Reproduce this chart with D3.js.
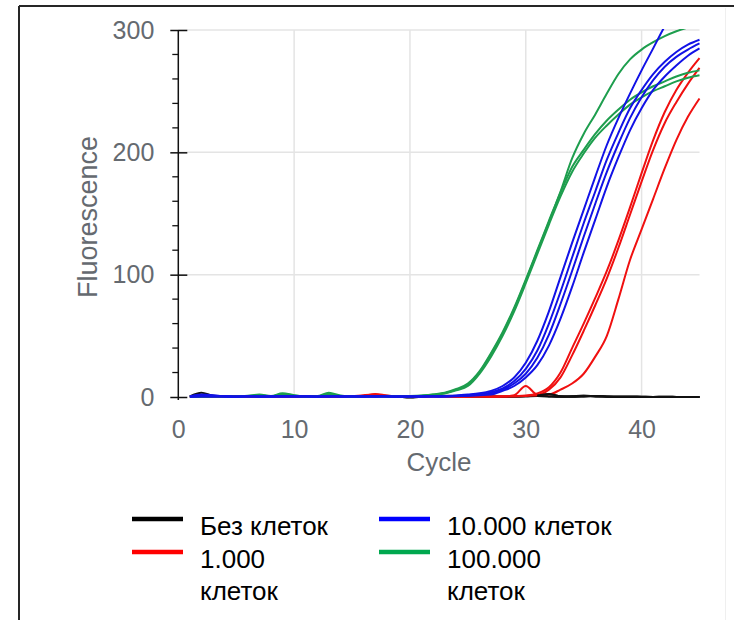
<!DOCTYPE html>
<html>
<head>
<meta charset="utf-8">
<script src="https://cdn.jsdelivr.net/npm/d3@7"></script>
<style>
  html, body { margin: 0; padding: 0; background: #fff; }
  svg { display: block; font-family: "Liberation Sans", Arial, sans-serif; }
</style>
</head>
<body>
<svg id="chart" width="734" height="620"></svg>
<script>
// Amplification cycles 1..45
const cycles = [1,2,3,4,5,6,7,8,9,10,11,12,13,14,15,16,17,18,19,20,21,22,23,24,25,26,27,28,29,30,31,32,33,34,35,36,37,38,39,40,41,42,43,44,45];

// Fluorescence per replicate, one array per well
const noCells = [
  [0.5,3.5,1,0.5,0.3,0.5,0.8,0.6,1,0.8,0.5,0.6,1,0.7,0.5,0.6,1.2,1,0.3,-0.5,0.2,1.2,1,0.8,0.6,0.5,0.4,0.3,0.5,0.8,1.2,2.5,0.6,0.3,0.5,0.8,0.4,0.2,0.3,0.2,0.1,0.2,0.1,0,0.1],
  [0.2,0.5,0.4,0.3,0.6,0.4,0.3,0.5,0.6,0.4,0.3,0.5,0.4,0.3,0.5,0.8,1.5,0.6,0.2,-0.3,0.5,0.8,0.6,0.4,0.3,0.2,0.4,0.3,0.2,0.4,0.8,0.5,0.3,0.6,1,0.5,0.3,0.2,0.3,0.1,0,0.1,0,0.1,0]
];
const cells1k = [
  [0.3,0.6,0.4,0.2,0.5,0.7,0.4,0.3,0.6,0.5,0.4,0.6,0.5,0.3,0.6,1.5,2,0.8,0.4,0.3,0.5,0.6,0.4,0.3,0.5,0.4,0.3,0.5,0.8,1.2,3,8,20,40,60,81,103,128,155,183,210,233,251,265,277],
  [0.2,0.4,0.6,0.3,0.4,0.5,0.6,0.4,0.3,0.5,0.6,0.4,0.3,0.5,0.4,1,2.5,1.2,0.3,0.2,0.4,0.5,0.6,0.4,0.3,0.5,0.6,0.4,1.5,9,2,6,16,34,54,75,97,122,149,176,202,224,241,256,269],
  [0.4,0.3,0.5,0.6,0.4,0.3,0.5,0.4,0.6,0.5,0.3,0.4,0.6,0.5,0.3,0.8,1.2,0.6,0.4,0.2,0.4,0.6,0.5,0.3,0.4,0.5,0.3,0.6,0.5,0.8,1.5,2,6,11,19,33,50,80,112,137,162,187,210,229,244]
];
const cells10k = [
  [0.5,2,1.5,0.5,0.3,0.6,0.4,0.5,0.8,0.6,0.4,0.5,0.7,0.5,0.4,0.6,0.8,0.5,0.3,0.4,0.6,0.5,0.8,1.2,2,3,5,9,16,28,46,70,98,126,153,180,206,228,248,267,285,303,318,330,340],
  [0.3,1.5,1,0.8,0.4,0.5,0.3,0.6,0.5,0.4,0.6,0.3,0.5,0.6,0.4,0.5,0.3,0.6,0.4,0.5,0.3,0.6,0.5,1,1.5,2,4,7,13,23,38,60,86,114,142,168,194,216,236,251,264,274,282,288,292],
  [0.4,0.6,0.5,0.3,0.4,0.6,0.5,0.4,0.3,0.5,0.6,0.4,0.5,0.3,0.6,0.4,0.5,0.6,0.3,0.4,0.5,0.6,0.4,0.8,1.2,2,3,6,11,19,32,51,76,103,131,158,184,207,228,245,259,270,278,284,289],
  [0.2,0.5,0.4,0.6,0.3,0.5,0.4,0.3,0.6,0.5,0.4,0.3,0.5,0.6,0.4,0.3,0.5,0.4,0.6,0.3,0.5,0.4,0.6,0.7,1,1.5,2,5,9,16,26,42,64,90,118,145,172,196,218,236,251,262,271,279,285]
];
const cells100k = [
  [0.5,0.8,0.6,0.4,0.5,1,2,0.8,3,1.5,0.6,0.8,3.5,1.2,0.5,0.6,0.4,0.5,0.6,0.8,1.2,2,3.5,6.5,11,21,36,53,73,96,120,144,168,195,215,231,248,264,276,284,290,295,299,302,304],
  [0.3,0.5,0.4,0.6,0.4,0.8,1.5,0.5,2.5,1.2,0.4,0.6,2.5,0.8,0.4,0.5,0.6,0.4,0.5,0.7,1,2,3,6,10,20,35,52,72,95,119,143,167,188,202,215,226,235,243,249,254,258,262,265,267],
  [0.4,0.3,0.6,0.5,0.3,0.6,0.8,0.4,1.5,0.8,0.5,0.4,1.8,0.6,0.3,0.4,0.5,0.6,0.4,0.6,0.9,1.5,3,5.5,9,19,33,50,70,93,117,141,164,184,199,212,222,231,239,245,250,254,258,261,263]
];

// Series names and colours
const seriesNames = ["Без клеток", "1.000 клеток", "10.000 клеток", "100.000 клеток"];
const seriesColors = ["#000000", "#ff0000", "#0000ff", "#00a84f"];
const lineColors = ["#111111", "#f01010", "#1212e6", "#1e9e4e"];

const xTicks = [0, 10, 20, 30, 40];
const yTicks = [0, 100, 200, 300];
const yMinorTicks = [20, 40, 60, 80, 120, 140, 160, 180, 220, 240, 260, 280];

const FONT = "'Liberation Sans', Arial, sans-serif";
const svg = d3.select("#chart");

// Outer frame
svg.append("line").attr("x1", 19).attr("y1", 6).attr("x2", 734).attr("y2", 6)
  .attr("stroke", "#262626").attr("stroke-width", 2);
svg.append("line").attr("x1", 19).attr("y1", 6).attr("x2", 19).attr("y2", 620)
  .attr("stroke", "#262626").attr("stroke-width", 2);
svg.append("line").attr("x1", 725.5).attr("y1", 8).attr("x2", 725.5).attr("y2", 620)
  .attr("stroke", "#efefef").attr("stroke-width", 1);

const x = d3.scaleLinear().domain([0, 45]).range([178.3, 699.5]);
const y = d3.scaleLinear().domain([0, 300]).range([397, 30]);

// Grid
const grid = svg.append("g");
grid.selectAll("line.v").data(xTicks.filter(d => d > 0)).join("line")
  .attr("x1", d => x(d)).attr("x2", d => x(d))
  .attr("y1", y(300)).attr("y2", y(0))
  .attr("stroke", "#e4e4e4").attr("stroke-width", 1.5);
grid.selectAll("line.h").data(yTicks.filter(d => d > 0)).join("line")
  .attr("x1", x(0)).attr("x2", x(45))
  .attr("y1", d => y(d)).attr("y2", d => y(d))
  .attr("stroke", "#e4e4e4").attr("stroke-width", 1.5);

// Curves, clipped to the plot area
svg.append("clipPath").attr("id", "plotClip")
  .append("rect").attr("x", x(0)).attr("y", y(300) - 1)
  .attr("width", x(45) - x(0) + 2).attr("height", y(0) - y(300) + 6);

const lineFrom = start => d3.line()
  .x((d, i) => x(cycles[i + start]))
  .y(d => y(d))
  .curve(d3.curveMonotoneX);
const line = lineFrom(0);

const curves = svg.append("g").attr("clip-path", "url(#plotClip)");
const drawGroup = (reps, color) => {
  curves.selectAll(null).data(reps).join("path")
    .attr("d", line)
    .attr("fill", "none")
    .attr("stroke", color)
    .attr("stroke-width", 2);
};
drawGroup(noCells, lineColors[0]);
drawGroup(cells1k, lineColors[1]);
drawGroup(cells100k, lineColors[3]);
drawGroup(cells10k, lineColors[2]);
// the no-template wells stay on the baseline after the others rise: redraw that tail on top
const tailStart = 30;
curves.selectAll(null).data(noCells).join("path")
  .attr("d", d => lineFrom(tailStart)(d.slice(tailStart)))
  .attr("fill", "none").attr("stroke", lineColors[0]).attr("stroke-width", 2);

// Y axis
const yAxis = svg.append("g").attr("transform", `translate(${x(0)},0)`)
  .call(d3.axisLeft(y).tickValues(yTicks).tickSizeInner(8).tickSizeOuter(0).tickPadding(16));
yAxis.select(".domain").attr("stroke", "#111").attr("stroke-width", 1.5)
  .attr("d", `M0,${y(300)}V${y(0) + 3}`);
yAxis.selectAll(".tick line").attr("x2", -8).attr("x1", 9).attr("stroke", "#111").attr("stroke-width", 1.5);
yAxis.selectAll(".tick text").attr("fill", "#656a70").attr("font-size", 25)
  .attr("font-family", FONT);
svg.append("g").selectAll("line").data(yMinorTicks).join("line")
  .attr("x1", x(0) - 6).attr("x2", x(0))
  .attr("y1", d => y(d)).attr("y2", d => y(d))
  .attr("stroke", "#111").attr("stroke-width", 1.3);

// X axis (labels only)
const xAxis = svg.append("g").attr("transform", `translate(0,${y(0)})`)
  .call(d3.axisBottom(x).tickValues(xTicks).tickSizeInner(0).tickSizeOuter(0).tickPadding(23));
xAxis.select(".domain").remove();
xAxis.selectAll(".tick line").remove();
xAxis.selectAll(".tick text").attr("fill", "#656a70").attr("font-size", 25)
  .attr("font-family", FONT);

// Axis titles
svg.append("text").attr("x", 439).attr("y", 471).attr("text-anchor", "middle")
  .attr("font-size", 26).attr("fill", "#656a70").text("Cycle");
svg.append("text").attr("transform", "translate(97,217) rotate(-90)")
  .attr("text-anchor", "middle").attr("font-size", 27).attr("fill", "#656a70")
  .text("Fluorescence");

// Legend
const legendItems = [
  { lines: ["Без клеток"], color: seriesColors[0], lx: 132, ly: 519 },
  { lines: ["1.000", "клеток"], color: seriesColors[1], lx: 132, ly: 552 },
  { lines: ["10.000 клеток"], color: seriesColors[2], lx: 379, ly: 519 },
  { lines: ["100.000", "клеток"], color: seriesColors[3], lx: 379, ly: 552 }
];
const legend = svg.append("g");
legendItems.forEach(it => {
  legend.append("line").attr("x1", it.lx).attr("x2", it.lx + 51)
    .attr("y1", it.ly).attr("y2", it.ly)
    .attr("stroke", it.color).attr("stroke-width", 4.5);
  const t = legend.append("text").attr("x", it.lx + 68).attr("y", it.ly + 16)
    .attr("font-size", 26).attr("fill", "#000");
  it.lines.forEach((s, i) => {
    t.append("tspan").attr("x", it.lx + 68).attr("dy", i === 0 ? 0 : 32).text(s);
  });
});
</script>
</body>
</html>
